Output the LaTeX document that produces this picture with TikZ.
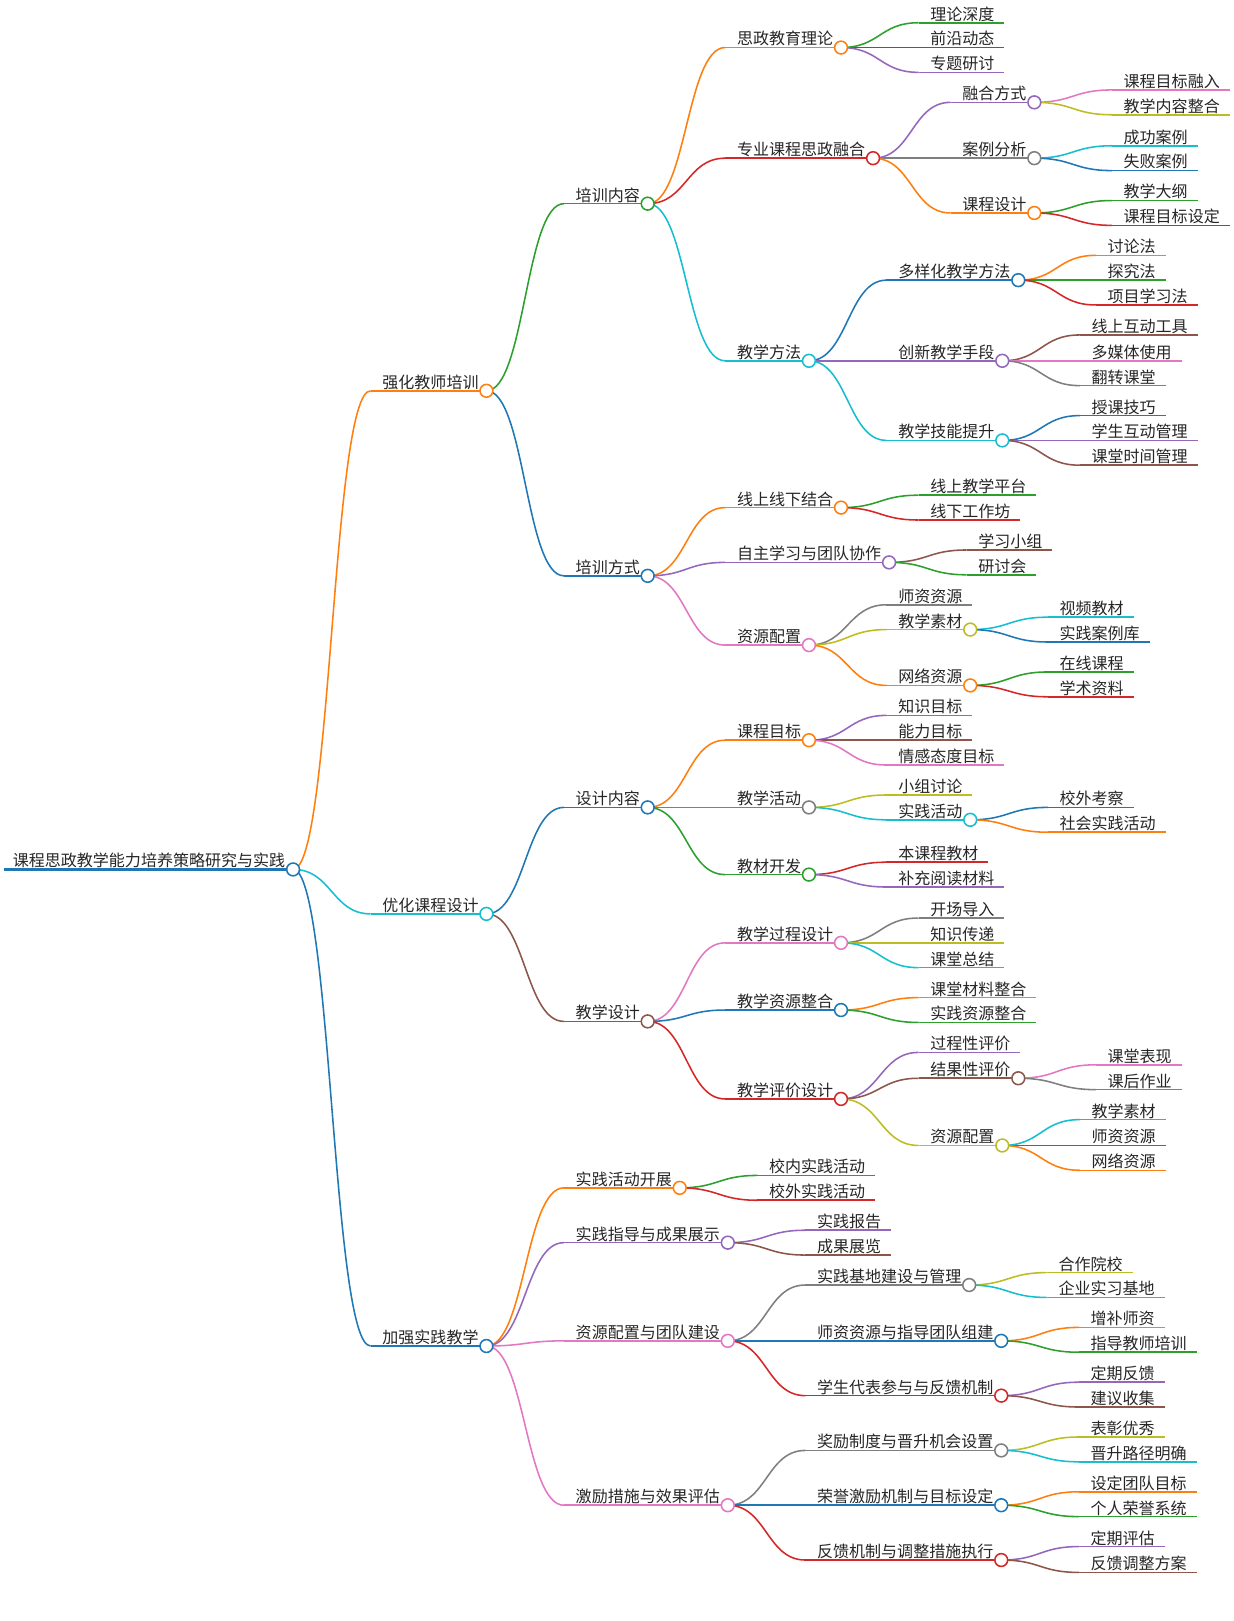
\documentclass[tikz,border=0pt]{standalone}
\usepackage{fontspec}
\setmainfont{Noto Sans CJK SC}
\usetikzlibrary{calc}
\definecolor{mmblue}{HTML}{1F77B4}
\definecolor{mmorange}{HTML}{FF7F0E}
\definecolor{mmgreen}{HTML}{2CA02C}
\definecolor{mmred}{HTML}{D62728}
\definecolor{mmpurple}{HTML}{9467BD}
\definecolor{mmbrown}{HTML}{8C564B}
\definecolor{mmpink}{HTML}{E377C2}
\definecolor{mmgray}{HTML}{7F7F7F}
\definecolor{mmolive}{HTML}{BCBD22}
\definecolor{mmcyan}{HTML}{17BECF}
\definecolor{mmtext}{HTML}{262626}
\pgfdeclarelayer{mmback}
\pgfdeclarelayer{mmedges}
\pgfsetlayers{mmback,mmedges,main}
\tikzset{
 mmln/.style={line width=0.75pt},
 mmlbl/.style={anchor=base west, inner sep=0pt, text=mmtext, font=\fontsize{7.75pt}{9pt}\selectfont},
 mmdot/.style={circle, fill=white, line width=0.75pt, minimum size=6.2pt, inner sep=0pt},
}
% #1 type (i inner / l leaf), #2 name, #3 parent, #4 y, #5 chars, #6 colour, #7 text
\newcommand\mmnode[7]{%
  \pgfmathsetmacro\mmtx{\csname mmx#3\endcsname+86}%
  \ifx i#1\pgfmathsetmacro\mmex{\mmtx+#5*15.5+8}\else\pgfmathsetmacro\mmex{\mmtx+#5*15.5+10}\fi
  \expandafter\xdef\csname mmx#2\endcsname{\mmex}%
  \coordinate (#2-s) at ({\mmtx-11},#4);
  \coordinate (#2) at (\mmex,#4);
  \begin{pgfonlayer}{mmedges}
  \draw[mmln,#6] let \p1=(#3), \p2=(#2-s) in (\p1) .. controls ({(\x1+\x2)/2},\y1) and ({(\x1+\x2)/2},\y2) .. (\p2);
  \end{pgfonlayer}
  \draw[mmln,#6] (#2-s) -- (#2);
  \node[mmlbl] (#2-t) at (\mmtx,{#4-2.5}) {#7};
  \ifx i#1\node[mmdot,draw=#6] (#2-c) at (#2) {};\fi
}
\begin{document}
\begin{tikzpicture}[x=0.5pt,y=-0.5pt]
\begin{pgfonlayer}{mmback}
\fill[white] (0,0) rectangle (1193,1568);
\end{pgfonlayer}
\useasboundingbox (0,0) rectangle (1193,1568);
% root
\expandafter\xdef\csname mmxroot\endcsname{283.5}
\coordinate (root-s) at (4,841);
\coordinate (root) at (283.5,841);
\draw[mmblue, line width=1.4pt] (root-s) -- (root);
\node[mmlbl] (root-t) at (12,838) {课程思政教学能力培养策略研究与实践};
\node[mmdot, draw=mmblue] (root-c) at (root) {};
% level 1
\mmnode{i}{A}{root}{378}{6}{mmorange}{强化教师培训}
\mmnode{i}{B}{root}{884}{6}{mmcyan}{优化课程设计}
\mmnode{i}{C}{root}{1302}{6}{mmblue}{加强实践教学}
% A
\mmnode{i}{A1}{A}{197}{4}{mmgreen}{培训内容}
\mmnode{i}{A2}{A}{557}{4}{mmblue}{培训方式}
\mmnode{i}{A11}{A1}{46}{6}{mmorange}{思政教育理论}
\mmnode{i}{A12}{A1}{153}{8}{mmred}{专业课程思政融合}
\mmnode{i}{A13}{A1}{349}{4}{mmcyan}{教学方法}
\mmnode{l}{A111}{A11}{22}{4}{mmgreen}{理论深度}
\mmnode{l}{A112}{A11}{46}{4}{mmred}{前沿动态}
\mmnode{l}{A113}{A11}{70}{4}{mmpurple}{专题研讨}
\mmnode{i}{A121}{A12}{99}{4}{mmpurple}{融合方式}
\mmnode{i}{A122}{A12}{153}{4}{mmgray}{案例分析}
\mmnode{i}{A123}{A12}{206}{4}{mmorange}{课程设计}
\mmnode{l}{A1211}{A121}{87}{6}{mmpink}{课程目标融入}
\mmnode{l}{A1212}{A121}{111}{6}{mmolive}{教学内容整合}
\mmnode{l}{A1221}{A122}{141}{4}{mmcyan}{成功案例}
\mmnode{l}{A1222}{A122}{165}{4}{mmblue}{失败案例}
\mmnode{l}{A1231}{A123}{194}{4}{mmgreen}{教学大纲}
\mmnode{l}{A1232}{A123}{218}{6}{mmred}{课程目标设定}
\mmnode{i}{A131}{A13}{271}{7}{mmblue}{多样化教学方法}
\mmnode{i}{A132}{A13}{349}{6}{mmpurple}{创新教学手段}
\mmnode{i}{A133}{A13}{426}{6}{mmcyan}{教学技能提升}
\mmnode{l}{A1311}{A131}{247}{3}{mmorange}{讨论法}
\mmnode{l}{A1312}{A131}{271}{3}{mmgreen}{探究法}
\mmnode{l}{A1313}{A131}{295}{5}{mmred}{项目学习法}
\mmnode{l}{A1321}{A132}{324}{6}{mmbrown}{线上互动工具}
\mmnode{l}{A1322}{A132}{349}{5}{mmpink}{多媒体使用}
\mmnode{l}{A1323}{A132}{373}{4}{mmgray}{翻转课堂}
\mmnode{l}{A1331}{A133}{402}{4}{mmblue}{授课技巧}
\mmnode{l}{A1332}{A133}{426}{6}{mmpurple}{学生互动管理}
\mmnode{l}{A1333}{A133}{450}{6}{mmbrown}{课堂时间管理}
\mmnode{i}{A21}{A2}{491}{6}{mmorange}{线上线下结合}
\mmnode{i}{A22}{A2}{544}{9}{mmpurple}{自主学习与团队协作}
\mmnode{i}{A23}{A2}{624}{4}{mmpink}{资源配置}
\mmnode{l}{A211}{A21}{479}{6}{mmgreen}{线上教学平台}
\mmnode{l}{A212}{A21}{503}{5}{mmred}{线下工作坊}
\mmnode{l}{A221}{A22}{532}{4}{mmbrown}{学习小组}
\mmnode{l}{A222}{A22}{556}{3}{mmgreen}{研讨会}
\mmnode{l}{A231}{A23}{585}{4}{mmgray}{师资资源}
\mmnode{i}{A232}{A23}{609}{4}{mmolive}{教学素材}
\mmnode{i}{A233}{A23}{663}{4}{mmorange}{网络资源}
\mmnode{l}{A2321}{A232}{597}{4}{mmcyan}{视频教材}
\mmnode{l}{A2322}{A232}{621}{5}{mmblue}{实践案例库}
\mmnode{l}{A2331}{A233}{650}{4}{mmgreen}{在线课程}
\mmnode{l}{A2332}{A233}{674}{4}{mmred}{学术资料}
% B
\mmnode{i}{B1}{B}{781}{4}{mmblue}{设计内容}
\mmnode{i}{B2}{B}{988}{4}{mmbrown}{教学设计}
\mmnode{i}{B11}{B1}{716}{4}{mmorange}{课程目标}
\mmnode{i}{B12}{B1}{781}{4}{mmgray}{教学活动}
\mmnode{i}{B13}{B1}{846}{4}{mmgreen}{教材开发}
\mmnode{l}{B111}{B11}{692}{4}{mmpurple}{知识目标}
\mmnode{l}{B112}{B11}{716}{4}{mmbrown}{能力目标}
\mmnode{l}{B113}{B11}{740}{6}{mmpink}{情感态度目标}
\mmnode{l}{B121}{B12}{769}{4}{mmolive}{小组讨论}
\mmnode{i}{B122}{B12}{793}{4}{mmcyan}{实践活动}
\mmnode{l}{B1221}{B122}{781}{4}{mmblue}{校外考察}
\mmnode{l}{B1222}{B122}{805}{6}{mmorange}{社会实践活动}
\mmnode{l}{B131}{B13}{834}{5}{mmred}{本课程教材}
\mmnode{l}{B132}{B13}{858}{6}{mmpurple}{补充阅读材料}
\mmnode{i}{B21}{B2}{912}{6}{mmpink}{教学过程设计}
\mmnode{i}{B22}{B2}{977}{6}{mmblue}{教学资源整合}
\mmnode{i}{B23}{B2}{1063}{6}{mmred}{教学评价设计}
\mmnode{l}{B211}{B21}{888}{4}{mmgray}{开场导入}
\mmnode{l}{B212}{B21}{912}{4}{mmolive}{知识传递}
\mmnode{l}{B213}{B21}{936}{4}{mmcyan}{课堂总结}
\mmnode{l}{B221}{B22}{965}{6}{mmorange}{课堂材料整合}
\mmnode{l}{B222}{B22}{989}{6}{mmgreen}{实践资源整合}
\mmnode{l}{B231}{B23}{1018}{5}{mmpurple}{过程性评价}
\mmnode{i}{B232}{B23}{1043}{5}{mmbrown}{结果性评价}
\mmnode{i}{B233}{B23}{1108}{4}{mmolive}{资源配置}
\mmnode{l}{B2321}{B232}{1030}{4}{mmpink}{课堂表现}
\mmnode{l}{B2322}{B232}{1054}{4}{mmgray}{课后作业}
\mmnode{l}{B2331}{B233}{1083}{4}{mmcyan}{教学素材}
\mmnode{l}{B2332}{B233}{1108}{4}{mmblue}{师资资源}
\mmnode{l}{B2333}{B233}{1132}{4}{mmorange}{网络资源}
% C
\mmnode{i}{C1}{C}{1149}{6}{mmorange}{实践活动开展}
\mmnode{i}{C2}{C}{1202}{9}{mmpurple}{实践指导与成果展示}
\mmnode{i}{C3}{C}{1297}{9}{mmpink}{资源配置与团队建设}
\mmnode{i}{C4}{C}{1456}{9}{mmpink}{激励措施与效果评估}
\mmnode{l}{C11}{C1}{1137}{6}{mmgreen}{校内实践活动}
\mmnode{l}{C12}{C1}{1161}{6}{mmred}{校外实践活动}
\mmnode{l}{C21}{C2}{1190}{4}{mmpurple}{实践报告}
\mmnode{l}{C22}{C2}{1214}{4}{mmbrown}{成果展览}
\mmnode{i}{C31}{C3}{1243}{9}{mmgray}{实践基地建设与管理}
\mmnode{i}{C32}{C3}{1297}{11}{mmblue}{师资资源与指导团队组建}
\mmnode{i}{C33}{C3}{1350}{11}{mmred}{学生代表参与与反馈机制}
\mmnode{l}{C311}{C31}{1231}{4}{mmolive}{合作院校}
\mmnode{l}{C312}{C31}{1255}{6}{mmcyan}{企业实习基地}
\mmnode{l}{C321}{C32}{1284}{4}{mmorange}{增补师资}
\mmnode{l}{C322}{C32}{1308}{6}{mmgreen}{指导教师培训}
\mmnode{l}{C331}{C33}{1337}{4}{mmpurple}{定期反馈}
\mmnode{l}{C332}{C33}{1361}{4}{mmbrown}{建议收集}
\mmnode{i}{C41}{C4}{1403}{11}{mmgray}{奖励制度与晋升机会设置}
\mmnode{i}{C42}{C4}{1456}{11}{mmblue}{荣誉激励机制与目标设定}
\mmnode{i}{C43}{C4}{1509}{11}{mmred}{反馈机制与调整措施执行}
\mmnode{l}{C411}{C41}{1390}{4}{mmolive}{表彰优秀}
\mmnode{l}{C412}{C41}{1414}{6}{mmcyan}{晋升路径明确}
\mmnode{l}{C421}{C42}{1443}{6}{mmorange}{设定团队目标}
\mmnode{l}{C422}{C42}{1467}{6}{mmgreen}{个人荣誉系统}
\mmnode{l}{C431}{C43}{1496}{4}{mmpurple}{定期评估}
\mmnode{l}{C432}{C43}{1521}{6}{mmbrown}{反馈调整方案}
\end{tikzpicture}
\end{document}
